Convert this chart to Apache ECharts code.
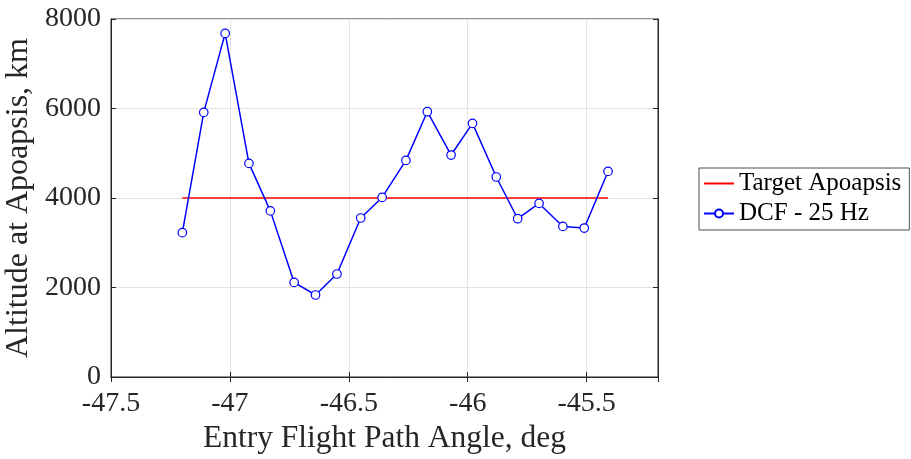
<!DOCTYPE html>
<html>
<head>
<meta charset="utf-8">
<script src="https://cdn.jsdelivr.net/npm/echarts@6/dist/echarts.min.js"></script>
<style>
  html, body { margin: 0; padding: 0; background: #fff; }
  #chart { width: 911px; height: 459px; }
</style>
</head>
<body>
<div id="chart"></div>
<script>
// entry flight path angle, deg
var angles = [-47.2, -47.11, -47.02, -46.92, -46.83, -46.73, -46.64, -46.55, -46.45, -46.36,
              -46.26, -46.17, -46.07, -45.98, -45.88, -45.79, -45.70, -45.60, -45.51, -45.41];
// altitude at apoapsis, km (DCF - 25 Hz)
var dcfAlt = [3225, 5913, 7678, 4773, 3712, 2114, 1832, 2302, 3553, 4013,
              4840, 5928, 4960, 5667, 4469, 3537, 3879, 3365, 3329, 4594];
var targetAlt = 4000;
var seriesNames = ['Target Apoapsis', 'DCF - 25 Hz'];

var font = 'Liberation Serif';
var axisCol = '#262626';

var chart = echarts.init(document.getElementById('chart'));

var xCommon = {
    type: 'value', min: -47.5, max: -45.2, interval: 0.5
};
var yCommon = {
    type: 'value', min: 0, max: 8000, interval: 2000
};
var plain = function (v) { return String(v); };

var option = {
    animation: false,
    grid: {
        left: 111, top: 19, right: 253, bottom: 82,
        outerBoundsMode: 'none', containLabel: false,
        show: true, borderColor: axisCol, borderWidth: 1
    },
    legend: {
        orient: 'vertical',
        left: 699, top: 168,
        padding: [3, 8, 4, 4],
        itemGap: 5,
        itemWidth: 30, itemHeight: 10,
        borderColor: '#4d4d4d', borderWidth: 1,
        backgroundColor: '#fff',
        textStyle: { fontFamily: font, fontSize: 25, lineHeight: 25, color: '#000' },
        data: [
            { name: seriesNames[0], itemStyle: { opacity: 0 } },
            { name: seriesNames[1] }
        ]
    },
    xAxis: [
        Object.assign({}, xCommon, {
            position: 'bottom',
            name: 'Entry Flight Path Angle, deg',
            nameLocation: 'middle', nameGap: 45,
            nameTextStyle: { fontFamily: font, fontSize: 31.5, color: axisCol },
            axisLine: { show: true, lineStyle: { color: axisCol } },
            axisTick: { inside: true, length: 5, lineStyle: { color: axisCol } },
            axisLabel: { fontFamily: font, fontSize: 28, color: axisCol, margin: 13, showMaxLabel: false,
                formatter: plain },
            splitLine: { show: true, lineStyle: { color: '#e3e3e3' } }
        }),
        Object.assign({}, xCommon, {
            position: 'top',
            axisLine: { show: true, lineStyle: { color: axisCol } },
            axisTick: { inside: true, length: 5, lineStyle: { color: axisCol } },
            axisLabel: { show: false },
            splitLine: { show: false }
        })
    ],
    yAxis: [
        Object.assign({}, yCommon, {
            position: 'left',
            name: 'Altitude at Apoapsis, km',
            nameLocation: 'middle', nameGap: 72,
            nameTextStyle: { fontFamily: font, fontSize: 32, color: axisCol },
            axisLine: { show: true, lineStyle: { color: axisCol } },
            axisTick: { show: true, inside: true, length: 5, lineStyle: { color: axisCol } },
            axisLabel: { fontFamily: font, fontSize: 28, color: axisCol, margin: 10, formatter: plain },
            splitLine: { show: true, lineStyle: { color: '#e3e3e3' } }
        }),
        Object.assign({}, yCommon, {
            position: 'right',
            axisLine: { show: true, lineStyle: { color: axisCol } },
            axisTick: { show: true, inside: true, length: 5, lineStyle: { color: axisCol } },
            axisLabel: { show: false },
            splitLine: { show: false }
        })
    ],
    series: [
        {
            name: seriesNames[0],
            type: 'line',
            symbol: 'none',
            lineStyle: { color: '#ff0000', width: 1.5 },
            itemStyle: { color: '#ff0000' },
            data: [[angles[0], targetAlt], [angles[angles.length - 1], targetAlt]],
            z: 3
        },
        {
            name: seriesNames[1],
            type: 'line',
            symbol: 'circle',
            symbolSize: 8.5,
            showAllSymbol: true,
            lineStyle: { color: '#0000ff', width: 1.5 },
            itemStyle: { color: '#fff', borderColor: '#0000ff', borderWidth: 1.2 },
            data: angles.map(function (a, i) { return [a, dcfAlt[i]]; }),
            z: 4
        }
    ]
};

chart.setOption(option);
</script>
</body>
</html>
